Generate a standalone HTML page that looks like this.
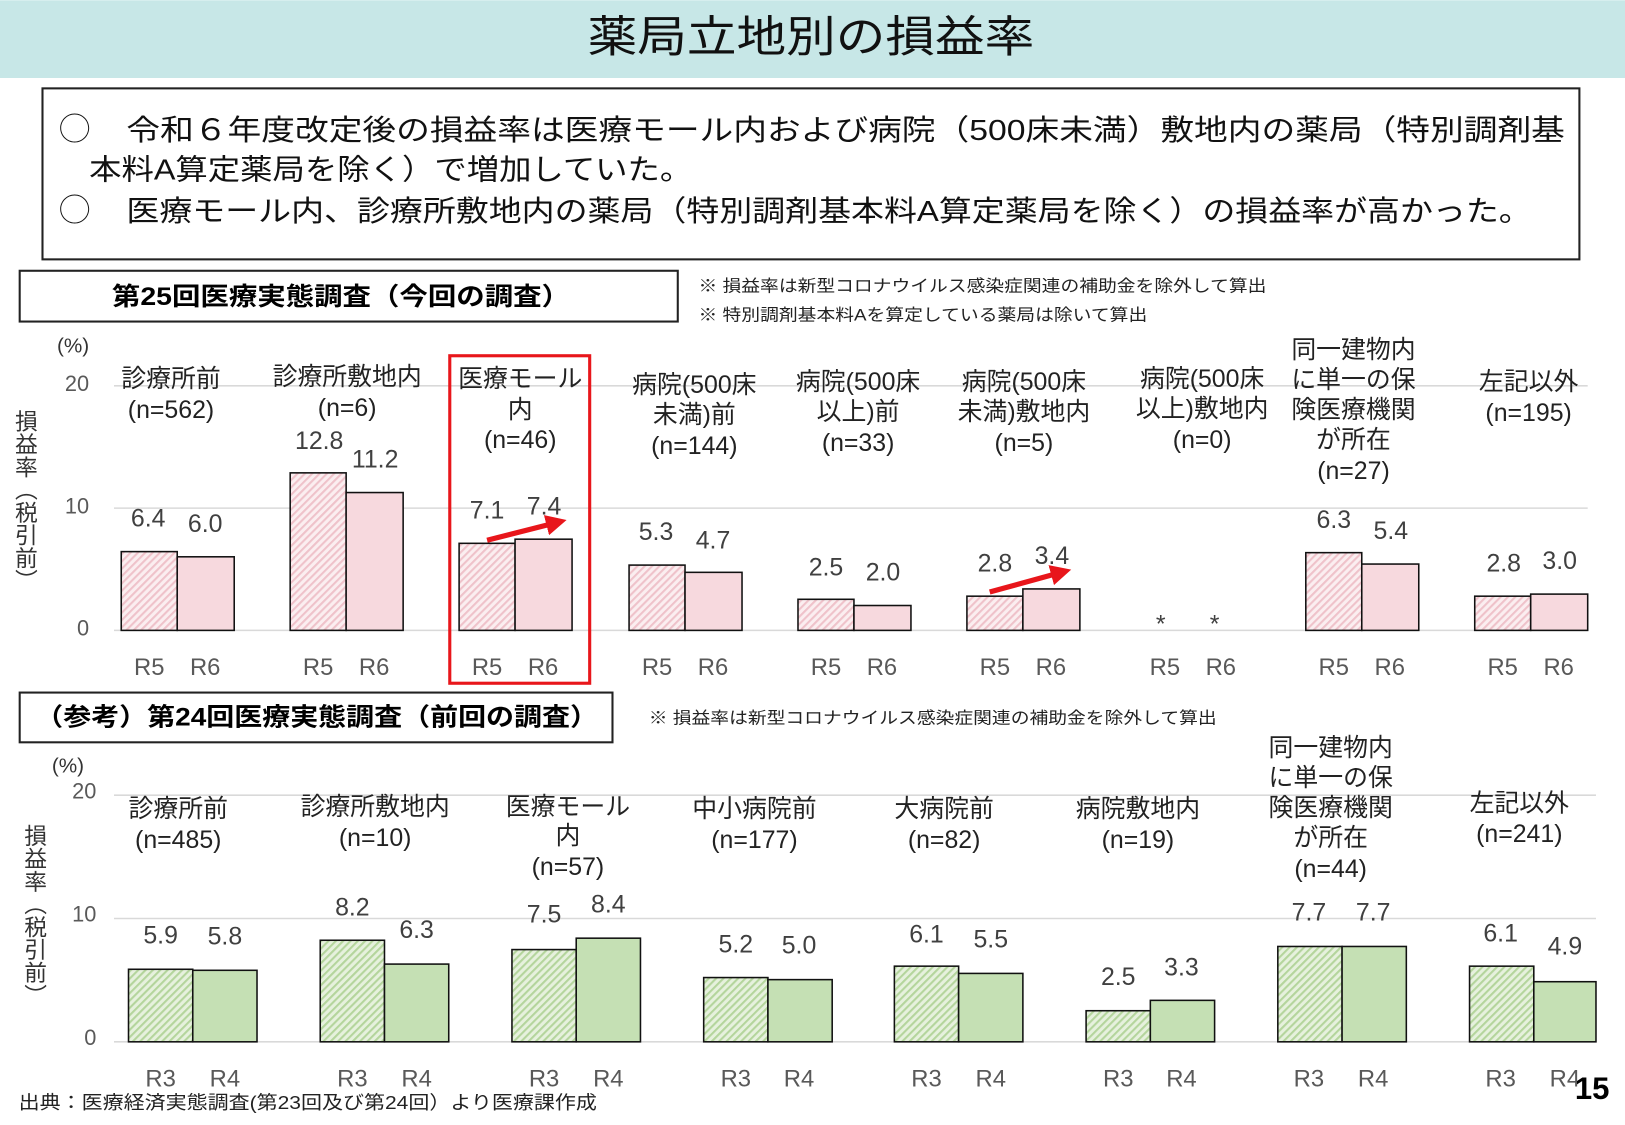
<!DOCTYPE html>
<html><head><meta charset="utf-8"><style>
html,body{margin:0;padding:0;background:#fff;}
svg{display:block;font-family:"Liberation Sans","Noto Sans CJK JP",sans-serif;}
</style></head><body>
<svg width="1625" height="1125" viewBox="0 0 1568 1085" xmlns="http://www.w3.org/2000/svg">
<defs>
<pattern id="hp" width="5" height="5" patternUnits="userSpaceOnUse" patternTransform="rotate(45)">
<rect width="5" height="5" fill="#fbeef0"/><rect width="2" height="5" fill="#efc2ca"/></pattern>
<pattern id="hg" width="5" height="5" patternUnits="userSpaceOnUse" patternTransform="rotate(45)">
<rect width="5" height="5" fill="#e6f1dd"/><rect width="2" height="5" fill="#b4d59c"/></pattern>
<marker id="ah" markerWidth="4" markerHeight="4" refX="2" refY="2" orient="auto"><path d="M0,0 L4,2 L0,4 z" fill="#e8161b"/></marker>
</defs>
<rect x="0" y="0" width="1568" height="75" fill="#c7e7e7"/>
<text x="567" y="50" font-size="42" textLength="431" lengthAdjust="spacingAndGlyphs" fill="#111">薬局立地別の損益率</text>
<rect x="41" y="85" width="1483" height="165" fill="#fff" stroke="#222" stroke-width="2"/>
<g font-size="28" fill="#111">
<text x="57" y="135" font-size="30">◯</text>
<text x="122" y="135" textLength="1388" lengthAdjust="spacingAndGlyphs">令和６年度改定後の損益率は医療モール内および病院（500床未満）敷地内の薬局（特別調剤基</text>
<text x="86" y="173" textLength="582" lengthAdjust="spacingAndGlyphs">本料A算定薬局を除く）で増加していた。</text>
<text x="57" y="213" font-size="30">◯</text>
<text x="122" y="213" textLength="1356" lengthAdjust="spacingAndGlyphs">医療モール内、診療所敷地内の薬局（特別調剤基本料A算定薬局を除く）の損益率が高かった。</text>
</g>
<rect x="19" y="261" width="635" height="49" fill="#fff" stroke="#222" stroke-width="2"/>
<text x="108" y="294" font-size="24" font-weight="bold" textLength="442" lengthAdjust="spacingAndGlyphs">第25回医療実態調査（今回の調査）</text>
<text x="674" y="281" font-size="16" fill="#222" textLength="548" lengthAdjust="spacingAndGlyphs">※ 損益率は新型コロナウイルス感染症関連の補助金を除外して算出</text>
<text x="674" y="309" font-size="16" fill="#222" textLength="433" lengthAdjust="spacingAndGlyphs">※ 特別調剤基本料Aを算定している薬局は除いて算出</text>

<!-- chart 1 -->
<g stroke="#d9d9d9" stroke-width="1.5"><line x1="110" y1="372" x2="1532" y2="372"/><line x1="110" y1="490" x2="1532" y2="490"/><line x1="110" y1="608" x2="1532" y2="608"/></g>
<g font-size="21" fill="#595959" text-anchor="end"><text x="86" y="377">20</text><text x="86" y="495">10</text><text x="86" y="613">0</text></g>
<text x="55" y="340" font-size="20" fill="#333">(%)</text>
<text x="24" y="395" font-size="22" fill="#333" style="writing-mode:tb;">損益率（税引前）</text>
<g stroke="#111" stroke-width="1.5">
<rect x="117" y="532" width="54" height="76" fill="url(#hp)"/><rect x="171" y="537" width="55" height="71" fill="#f7d9de"/>
<rect x="280" y="456" width="54" height="152" fill="url(#hp)"/><rect x="334" y="475" width="55" height="133" fill="#f7d9de"/>
<rect x="443" y="524" width="54" height="84" fill="url(#hp)"/><rect x="497" y="520" width="55" height="88" fill="#f7d9de"/>
<rect x="607" y="545" width="54" height="63" fill="url(#hp)"/><rect x="661" y="552" width="55" height="56" fill="#f7d9de"/>
<rect x="770" y="578" width="54" height="30" fill="url(#hp)"/><rect x="824" y="584" width="55" height="24" fill="#f7d9de"/>
<rect x="933" y="575" width="54" height="33" fill="url(#hp)"/><rect x="987" y="568" width="55" height="40" fill="#f7d9de"/>
<rect x="1260" y="533" width="54" height="75" fill="url(#hp)"/><rect x="1314" y="544" width="55" height="64" fill="#f7d9de"/>
<rect x="1423" y="575" width="54" height="33" fill="url(#hp)"/><rect x="1477" y="573" width="55" height="35" fill="#f7d9de"/>
</g>
<g font-size="24" fill="#404040" text-anchor="middle">
<text x="143" y="508">6.4</text><text x="198" y="513">6.0</text>
<text x="308" y="433">12.8</text><text x="362" y="451">11.2</text>
<text x="470" y="500">7.1</text><text x="525" y="496">7.4</text>
<text x="633" y="521">5.3</text><text x="688" y="529">4.7</text>
<text x="797" y="555">2.5</text><text x="852" y="560">2.0</text>
<text x="960" y="551">2.8</text><text x="1015" y="544">3.4</text>
<text x="1120" y="610">*</text><text x="1172" y="610">*</text>
<text x="1287" y="509">6.3</text><text x="1342" y="520">5.4</text>
<text x="1451" y="551">2.8</text><text x="1505" y="549">3.0</text>
</g>
<g font-size="23" fill="#595959" text-anchor="middle">
<text x="144" y="651">R5</text><text x="198" y="651">R6</text>
<text x="307" y="651">R5</text><text x="361" y="651">R6</text>
<text x="470" y="651">R5</text><text x="524" y="651">R6</text>
<text x="634" y="651">R5</text><text x="688" y="651">R6</text>
<text x="797" y="651">R5</text><text x="851" y="651">R6</text>
<text x="960" y="651">R5</text><text x="1014" y="651">R6</text>
<text x="1124" y="651">R5</text><text x="1178" y="651">R6</text>
<text x="1287" y="651">R5</text><text x="1341" y="651">R6</text>
<text x="1450" y="651">R5</text><text x="1504" y="651">R6</text>
</g>
<g font-size="24" fill="#222" text-anchor="middle">
<text x="165" y="373">診療所前</text><text x="165" y="403">(n=562)</text>
<text x="335" y="371">診療所敷地内</text><text x="335" y="401">(n=6)</text>
<text x="502" y="373">医療モール</text><text x="502" y="403">内</text><text x="502" y="432">(n=46)</text>
<text x="670" y="379">病院(500床</text><text x="670" y="408">未満)前</text><text x="670" y="438">(n=144)</text>
<text x="828" y="376">病院(500床</text><text x="828" y="405">以上)前</text><text x="828" y="435">(n=33)</text>
<text x="988" y="376">病院(500床</text><text x="988" y="405">未満)敷地内</text><text x="988" y="435">(n=5)</text>
<text x="1160" y="373">病院(500床</text><text x="1160" y="402">以上)敷地内</text><text x="1160" y="432">(n=0)</text>
<text x="1306" y="345">同一建物内</text><text x="1306" y="374">に単一の保</text><text x="1306" y="403">険医療機関</text><text x="1306" y="432">が所在</text><text x="1306" y="462">(n=27)</text>
<text x="1475" y="376">左記以外</text><text x="1475" y="406">(n=195)</text>
</g>
<rect x="434" y="343" width="135" height="316" fill="none" stroke="#e8161b" stroke-width="3"/>
<line x1="470" y1="521" x2="537" y2="504" stroke="#e8161b" stroke-width="5" marker-end="url(#ah)"/>
<line x1="955" y1="571" x2="1024" y2="552" stroke="#e8161b" stroke-width="5" marker-end="url(#ah)"/>

<!-- chart 2 -->
<rect x="19" y="668" width="572" height="48" fill="#fff" stroke="#222" stroke-width="2"/>
<text x="34" y="700" font-size="24" font-weight="bold" textLength="543" lengthAdjust="spacingAndGlyphs">（参考）第24回医療実態調査（前回の調査）</text>
<text x="626" y="698" font-size="16" fill="#222" textLength="548" lengthAdjust="spacingAndGlyphs">※ 損益率は新型コロナウイルス感染症関連の補助金を除外して算出</text>
<g stroke="#d9d9d9" stroke-width="1.5"><line x1="110" y1="767" x2="1540" y2="767"/><line x1="110" y1="886" x2="1540" y2="886"/><line x1="110" y1="1005" x2="1540" y2="1005"/></g>
<g font-size="21" fill="#595959" text-anchor="end"><text x="93" y="770">20</text><text x="93" y="889">10</text><text x="93" y="1008">0</text></g>
<text x="50" y="745" font-size="20" fill="#333">(%)</text>
<text x="33" y="795" font-size="22" fill="#333" style="writing-mode:tb;">損益率（税引前）</text>
<g stroke="#111" stroke-width="1.5">
<rect x="124" y="935" width="62" height="70" fill="url(#hg)"/><rect x="186" y="936" width="62" height="69" fill="#c5e0b4"/>
<rect x="309" y="907" width="62" height="98" fill="url(#hg)"/><rect x="371" y="930" width="62" height="75" fill="#c5e0b4"/>
<rect x="494" y="916" width="62" height="89" fill="url(#hg)"/><rect x="556" y="905" width="62" height="100" fill="#c5e0b4"/>
<rect x="679" y="943" width="62" height="62" fill="url(#hg)"/><rect x="741" y="945" width="62" height="60" fill="#c5e0b4"/>
<rect x="863" y="932" width="62" height="73" fill="url(#hg)"/><rect x="925" y="939" width="62" height="66" fill="#c5e0b4"/>
<rect x="1048" y="975" width="62" height="30" fill="url(#hg)"/><rect x="1110" y="965" width="62" height="40" fill="#c5e0b4"/>
<rect x="1233" y="913" width="62" height="92" fill="url(#hg)"/><rect x="1295" y="913" width="62" height="92" fill="#c5e0b4"/>
<rect x="1418" y="932" width="62" height="73" fill="url(#hg)"/><rect x="1480" y="947" width="60" height="58" fill="#c5e0b4"/>
</g>
<g font-size="24" fill="#404040" text-anchor="middle">
<text x="155" y="910">5.9</text><text x="217" y="911">5.8</text>
<text x="340" y="883">8.2</text><text x="402" y="905">6.3</text>
<text x="525" y="890">7.5</text><text x="587" y="880">8.4</text>
<text x="710" y="919">5.2</text><text x="771" y="920">5.0</text>
<text x="894" y="909">6.1</text><text x="956" y="914">5.5</text>
<text x="1079" y="950">2.5</text><text x="1140" y="941">3.3</text>
<text x="1263" y="888">7.7</text><text x="1325" y="888">7.7</text>
<text x="1448" y="908">6.1</text><text x="1510" y="921">4.9</text>
</g>
<g font-size="23" fill="#595959" text-anchor="middle">
<text x="155" y="1048">R3</text><text x="217" y="1048">R4</text>
<text x="340" y="1048">R3</text><text x="402" y="1048">R4</text>
<text x="525" y="1048">R3</text><text x="587" y="1048">R4</text>
<text x="710" y="1048">R3</text><text x="771" y="1048">R4</text>
<text x="894" y="1048">R3</text><text x="956" y="1048">R4</text>
<text x="1079" y="1048">R3</text><text x="1140" y="1048">R4</text>
<text x="1263" y="1048">R3</text><text x="1325" y="1048">R4</text>
<text x="1448" y="1048">R3</text><text x="1510" y="1048">R4</text>
</g>
<g font-size="24" fill="#222" text-anchor="middle">
<text x="172" y="788">診療所前</text><text x="172" y="818">(n=485)</text>
<text x="362" y="786">診療所敷地内</text><text x="362" y="816">(n=10)</text>
<text x="548" y="786">医療モール</text><text x="548" y="814">内</text><text x="548" y="844">(n=57)</text>
<text x="728" y="788">中小病院前</text><text x="728" y="818">(n=177)</text>
<text x="911" y="788">大病院前</text><text x="911" y="818">(n=82)</text>
<text x="1098" y="788">病院敷地内</text><text x="1098" y="818">(n=19)</text>
<text x="1284" y="729">同一建物内</text><text x="1284" y="758">に単一の保</text><text x="1284" y="787">険医療機関</text><text x="1284" y="816">が所在</text><text x="1284" y="846">(n=44)</text>
<text x="1466" y="783">左記以外</text><text x="1466" y="812">(n=241)</text>
</g>
<text x="18" y="1070" font-size="18" fill="#222" textLength="558" lengthAdjust="spacingAndGlyphs">出典：医療経済実態調査(第23回及び第24回）より医療課作成</text>
<text x="1553" y="1060" font-size="30" font-weight="bold" text-anchor="end" fill="#000">15</text>
</svg>
</body></html>
